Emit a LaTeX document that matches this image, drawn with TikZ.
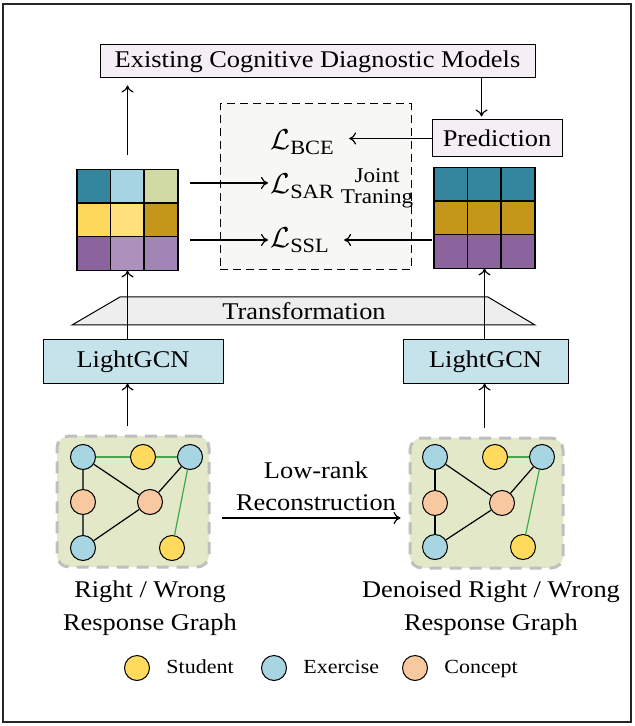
\documentclass[tikz,border=0pt]{standalone}
\usepackage{fontspec}
\usepackage{amsmath}
\setmainfont{Liberation Serif}[FakeStretch=1.1]
\usetikzlibrary{arrows.meta,positioning}

\definecolor{pinkfill}{HTML}{F6EEF5}
\definecolor{jointfill}{HTML}{F7F7F5}
\definecolor{gcnfill}{HTML}{C6E3EC}
\definecolor{trfill}{HTML}{EEEEEE}
\definecolor{graphfill}{HTML}{E3E8C8}
\definecolor{stuc}{HTML}{FFDA5C}
\definecolor{exec}{HTML}{A8D5E2}
\definecolor{conc}{HTML}{F8C9A0}
\definecolor{edgegreen}{HTML}{3BAA4A}
\definecolor{tealc}{HTML}{33869E}
\definecolor{lblue}{HTML}{A6D3E2}
\definecolor{lolive}{HTML}{D2DAA4}
\definecolor{goldA}{HTML}{FFD95B}
\definecolor{goldB}{HTML}{FFE07B}
\definecolor{goldC}{HTML}{C4961A}
\definecolor{purpA}{HTML}{8B649D}
\definecolor{purpB}{HTML}{AB91BB}
\definecolor{purpC}{HTML}{A085B5}

\tikzset{
  txt/.style={font=\fontsize{12}{14}\selectfont},
  lbox/.style={draw, line width=0.5pt, inner sep=0pt, txt},
  arr/.style={-{To[length=3.5pt,width=6pt]}, line width=0.6pt},
  lossl/.style={anchor=base west, inner sep=1pt, font=\fontsize{14.5}{16}\selectfont},
  mline/.style={line width=0.75pt},
  gbox/.style={draw=black!25, line width=1.5pt, dash pattern=on 6pt off 4pt,
    rounded corners=6pt, fill=graphfill},
  gnode/.style={circle, draw, line width=0.5pt, minimum size=12.5pt, inner sep=0pt},
  stu/.style={gnode, fill=stuc},
  exe/.style={gnode, fill=exec},
  con/.style={gnode, fill=conc},
  gedge/.style={line width=0.6pt},
  greenedge/.style={line width=0.6pt, edgegreen},
  legtext/.style={anchor=west, inner sep=0pt, text height=1.5ex, text depth=0.3ex, font=\fontsize{10}{11}\selectfont},
}

\begin{document}
\begin{tikzpicture}[x=0.5pt,y=-0.5pt]
\useasboundingbox (0,0) rectangle (634,726);
\draw[line width=1pt, black!85] (3,4) rectangle (631,722);

% top part
\node (cdm) at (317.5,61.5) [lbox, fill=pinkfill, minimum width=217.5pt, minimum height=16.5pt] {Existing Cognitive Diagnostic Models};
\node (pred) at (497,138.5) [lbox, fill=pinkfill, minimum width=65pt, minimum height=18.5pt] {Prediction};
\node (joint) at (315.5,187) [draw, line width=0.5pt, dash pattern=on 4pt off 2.5pt, fill=jointfill, minimum width=95.5pt, minimum height=83pt] {};
\node (bce) at (268,150) [lossl] {$\mathcal{L}_{\text{BCE}}$};
\node (sar) at (268,194) [lossl] {$\mathcal{L}_{\text{SAR}}$};
\node (ssl) at (268,248) [lossl] {$\mathcal{L}_{\text{SSL}}$};
\node (jt) at (377,188) [align=center, font=\fontsize{10.5}{10.5}\selectfont] {Joint\\Traning};

% matrices
\node (lmat) at (127.5,220) [minimum size=50pt, inner sep=0pt] {};
\node (rmat) at (484.5,218) [minimum size=50pt, inner sep=0pt] {};
\foreach \clr [count=\k from 0] in {tealc,lblue,lolive,goldA,goldB,goldC,purpA,purpB,purpC} {
  \pgfmathtruncatemacro\col{mod(\k,3)}
  \pgfmathtruncatemacro\row{\k/3}
  \fill[\clr] ([shift={(\col*16.667pt,-\row*16.667pt)}]lmat.north west) rectangle +(16.667pt,-16.667pt);
}
\foreach \clr [count=\k from 0] in {tealc,tealc,tealc,goldC,goldC,goldC,purpA,purpA,purpA} {
  \pgfmathtruncatemacro\col{mod(\k,3)}
  \pgfmathtruncatemacro\row{\k/3}
  \fill[\clr] ([shift={(\col*16.667pt,-\row*16.667pt)}]rmat.north west) rectangle +(16.667pt,-16.667pt);
}
\foreach \m in {lmat,rmat} {
  \draw[mline] (\m.north west) rectangle (\m.south east);
  \foreach \t in {1,2} {
    \draw[mline] ([xshift=\t*16.667pt]\m.north west) -- ([xshift=\t*16.667pt]\m.south west);
    \draw[mline] ([yshift=-\t*16.667pt]\m.north west) -- ([yshift=-\t*16.667pt]\m.north east);
  }
}

% arrows of the top part
\coordinate (sarin) at ([yshift=5.5pt]sar.base west);
\coordinate (sslin) at ([yshift=4pt]ssl.base west);
\coordinate (sslout) at ([xshift=6pt,yshift=4pt]ssl.base east);
\draw[arr, shorten >=3.5pt] ([yshift=7.5pt]lmat.north) -- (lmat.north |- cdm.south);
\draw[arr, shorten >=1.5pt] ([xshift=-7.75pt]pred.north |- cdm.south) -- ([xshift=-7.75pt]pred.north);
\draw[arr] (pred.west) -- ([xshift=6pt]bce.east |- pred.west);
\draw[arr] ([xshift=6pt]lmat.east |- sarin) -- (sarin);
\draw[arr] ([xshift=6pt]lmat.east |- sslin) -- (sslin);
\draw[arr] ([xshift=-1pt]rmat.west |- sslout) -- (sslout);

% transformation and LightGCN
\draw[fill=trfill, line width=0.5pt] (72,325) -- (120,297) -- (488,297) -- (535,325) -- cycle;
\node (trans) at (304,311) [txt] {Transformation};
\node (lgcn) at (133,361.5) [lbox, fill=gcnfill, minimum width=90pt, minimum height=21.5pt] {LightGCN};
\node (rgcn) at (485.5,361.5) [lbox, fill=gcnfill, minimum width=82.5pt, minimum height=21.5pt] {LightGCN};
\draw[arr] (lmat.south |- lgcn.north) -- (lmat.south);
\draw[arr] (rmat.south |- rgcn.north) -- (rmat.south);

% response graphs
\node (lgraph) at (133,501.5) [gbox, minimum width=76pt, minimum height=65.5pt] {};
\node (rgraph) at (486.5,503) [gbox, minimum width=76.5pt, minimum height=65pt] {};
\draw[arr, shorten <=4.5pt] (lmat.south |- lgraph.north) -- (lmat.south |- lgcn.south);
\draw[arr, shorten <=4.5pt] (rmat.south |- rgraph.north) -- (rmat.south |- rgcn.south);

\node (lE1) at (83,457) [exe] {};
\node (lS1) at (143,457) [stu] {};
\node (lE2) at (190,457) [exe] {};
\node (lC1) at (83,502) [con] {};
\node (lC2) at (150,502) [con] {};
\node (lE3) at (83,548) [exe] {};
\node (lS2) at (172,548) [stu] {};
\draw[greenedge] (lE1) -- (lS1);
\draw[greenedge] (lS1) -- (lE2);
\draw[greenedge] (lE2) -- (lS2);
\draw[line width=1pt, black!70] (lE1) -- (lC1) -- (lE3);
\draw[gedge] (lE1) -- (lC2) -- (lE2);
\draw[gedge] (lE3) -- (lC2);

\node (rE1) at (435,457) [exe] {};
\node (rS1) at (495,457) [stu] {};
\node (rE2) at (542,457) [exe] {};
\node (rC1) at (435,503) [con] {};
\node (rC2) at (502,503) [con] {};
\node (rE3) at (435,547) [exe] {};
\node (rS2) at (523,547) [stu] {};
\draw[greenedge] (rS1) -- (rE2);
\draw[greenedge] (rE2) -- (rS2);
\draw[gedge] (rE1) -- (rC1) -- (rE3);
\draw[gedge] (rE1) -- (rC2) -- (rE2);
\draw[gedge] (rE3) -- (rC2);

\node (lowrank) at (316,486) [align=center, font=\fontsize{12}{16}\selectfont] {Low-rank\\Reconstruction};
\draw[arr] ([shift={(5.5pt,-8.25pt)}]lgraph.east) -- ([shift={(-4pt,-7.5pt)}]rgraph.west);

\node (lcap) at (150,608) [align=center, font=\fontsize{12}{16.5}\selectfont] {Right / Wrong\\Response Graph};
\node (rcap) at (491,608) [align=center, font=\fontsize{12}{16.5}\selectfont] {Denoised Right / Wrong\\Response Graph};

% legend
\node (legS) at (137,668) [stu] {};
\node (legSt) [right=8pt of legS, legtext] {Student};
\node (legE) at (274,668) [exe] {};
\node (legEt) [right=8pt of legE, legtext] {Exercise};
\node (legC) at (415,668) [con] {};
\node (legCt) [right=8pt of legC, legtext] {Concept};
\end{tikzpicture}
\end{document}
